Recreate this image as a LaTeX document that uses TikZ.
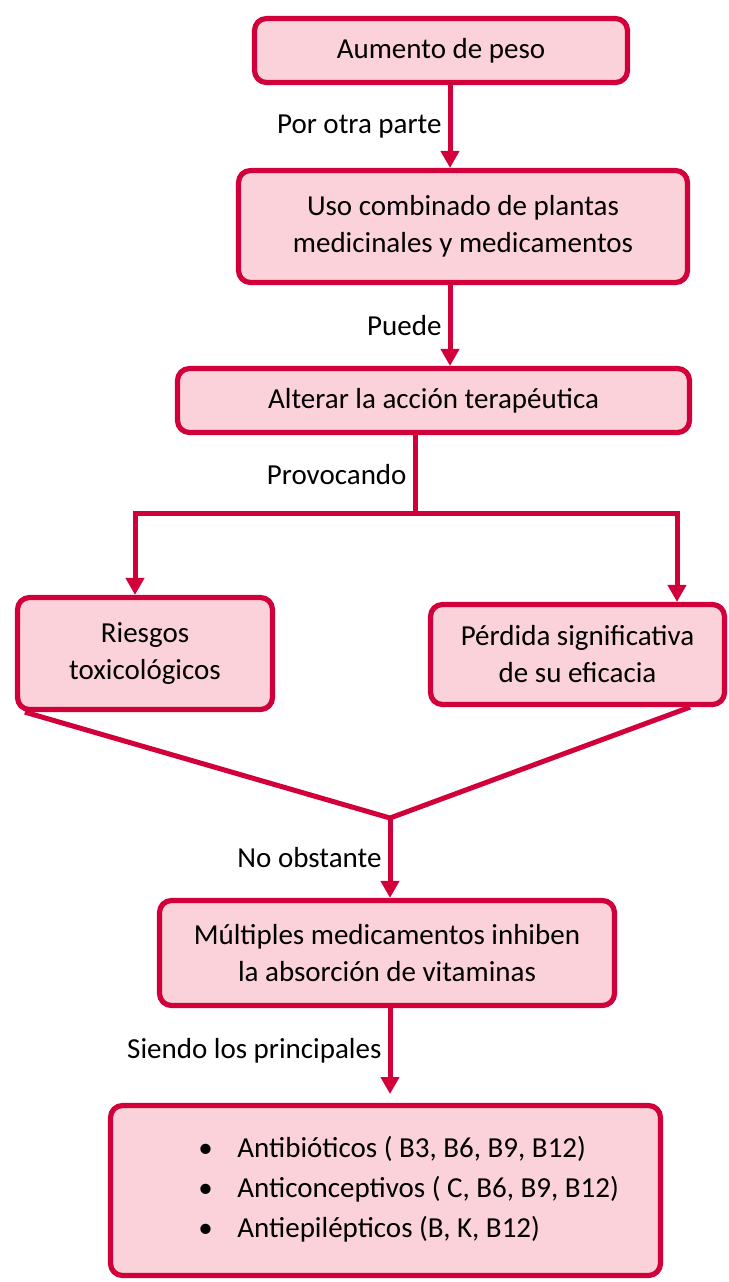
\documentclass[tikz,border=0pt]{standalone}
\usepackage{fontspec}
\setmainfont{Carlito}
\usepackage{tikz}
\usetikzlibrary{arrows.meta,calc,positioning}
\definecolor{rojo}{RGB}{210,0,58}
\definecolor{rosa}{RGB}{252,210,218}

\begin{document}
\begin{tikzpicture}[x=0.5pt,y=-0.5pt,
  font=\fontsize{14.5pt}{18.5pt}\selectfont,
  caja/.style={draw=rojo,fill=rosa,line width=2.6pt,rounded corners=6pt,align=center,inner sep=0pt},
  linea/.style={draw=rojo,line width=2.5pt},
  flecha/.style={linea,-{Triangle[width=9pt,length=8.5pt]}},
  etiq/.style={left,inner sep=3pt}]
\useasboundingbox (0,0) rectangle (729,1282);
\node[caja,minimum width=186.5pt,minimum height=32pt] (peso) at (441,50.5) {Aumento de peso};
\node[caja,minimum width=224.5pt,minimum height=56pt] (uso) at (463,226.5) {Uso combinado de plantas\\medicinales y medicamentos};
\node[caja,minimum width=256pt,minimum height=32pt] (alterar) at (433.5,400.5) {Alterar la acción terapéutica};
\node[caja,minimum width=127.5pt,minimum height=56pt] (riesgos) at (145,653.5) {Riesgos\\toxicológicos};
\node[caja,minimum width=147pt,minimum height=50pt] (perdida) at (577.5,654.5) {Pérdida significativa\\de su eficacia};
\node[caja,minimum width=227.5pt,minimum height=52.5pt] (multiples) at (387,953) {Múltiples medicamentos inhiben\\la absorción de vitaminas};
\node[caja,minimum width=275pt,minimum height=85pt] (antib) at (385.5,1190.5) {};
\node[anchor=west,align=left,inner sep=0pt,font=\fontsize{14.5pt}{20pt}\selectfont] (lista) at (198,1189)
  {\makebox[19.5pt][l]{•}Antibióticos ( B3, B6, B9, B12)\\
   \makebox[19.5pt][l]{•}Anticonceptivos ( C, B6, B9, B12)\\
   \makebox[19.5pt][l]{•}Antiepilépticos (B, K, B12)};

\coordinate (split) at (415,513);
\coordinate (join) at (390,818);
\coordinate (fin) at (390,1094);

\draw[flecha] (peso.south -| 450,0) -- node[etiq]{Por otra parte} (uso.north -| 450,0);
\draw[flecha] (uso.south -| 450,0) -- node[etiq]{Puede} (alterar.north -| 450,0);
\draw[linea] (alterar.south -| split) -- node[etiq]{Provocando} (split);
\draw[flecha] (split) -| (riesgos.north -| 135,0);
\draw[flecha] (split) -| (perdida.north -| 677,0);
\draw[linea] ($(riesgos.south west)+(10,0)$) -- (join) -- ($(perdida.south east)+(-37,0)$);
\draw[flecha] (join) -- node[etiq]{No obstante} (multiples.north -| join);
\draw[flecha] (multiples.south -| join) -- node[etiq]{Siendo los principales} (fin);
\end{tikzpicture}
\end{document}
